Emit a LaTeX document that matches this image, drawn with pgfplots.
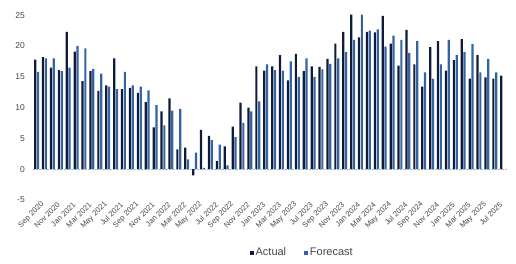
\documentclass[border=0pt]{standalone}
\usepackage{fontspec}
\setmainfont{Liberation Sans}
\usepackage{pgfplots}
\pgfplotsset{compat=1.18}
\definecolor{actual}{HTML}{101B3A}
\definecolor{forecast}{HTML}{3463A3}
\definecolor{txt}{HTML}{44464F}
\definecolor{zeroline}{HTML}{A9B8D6}
\pgfplotsset{sqlegend/.style={legend image code/.code={\fill[##1] (0pt,-1.9pt) rectangle (3.8pt,1.9pt);}}}
\begin{document}
\begin{tikzpicture}
\begin{axis}[
  scale only axis,
  width=474pt, height=187.9pt,
  xmin=-0.45, xmax=59.55,
  ymin=-5, ymax=25.5,
  ybar=0.6pt, bar width=2.2pt,
  axis line style={draw=none},
  major tick length=0pt,
  ytick={-5,0,5,10,15,20,25},
  extra y ticks={0},
  extra y tick labels={},
  extra y tick style={grid=major, major grid style={zeroline, densely dotted, line width=0.6pt}},
  xtick={0,2,...,58},
  xticklabels={Sep 2020, Nov 2020, Jan 2021, Mar 2021, May 2021, Jul 2021, Sep 2021, Nov 2021, Jan 2022, Mar 2022, May 2022, Jul 2022, Sep 2022, Nov 2022, Jan 2023, Mar 2023, May 2023, Jul 2023, Sep 2023, Nov 2023, Jan 2024, Mar 2024, May 2024, Jul 2024, Sep 2024, Nov 2024, Jan 2025, Mar 2025, May 2025, Jul 2025},
  xticklabel style={rotate=45, anchor=east, inner sep=0pt, yshift=-7pt, xshift=2pt, font=\fontsize{7.6}{9}\selectfont, text=txt},
  yticklabel style={anchor=east, inner sep=0pt, xshift=-8pt, font=\fontsize{8.5}{10}\selectfont, text=txt},
  /pgf/number format/assume math mode=true,
  legend style={draw=none, fill=none, at={(0.457,-0.28)}, anchor=west, legend columns=2,
    font=\fontsize{11}{13}\selectfont, text=txt,
    /tikz/every even column/.append style={column sep=16pt},
    legend cell align=left, inner sep=0pt},
]
\addplot[fill=actual, draw=none, sqlegend] coordinates {
(0,17.8) (1,18.2) (2,16.5) (3,16.1) (4,22.3) (5,19.1) (6,14.3) (7,15.9) (8,12.7) (9,13.6)
(10,18.0) (11,13.0) (12,13.2) (13,12.4) (14,10.9) (15,6.8) (16,9.4) (17,11.5) (18,3.2) (19,3.5)
(20,-1.0) (21,6.4) (22,5.4) (23,1.3) (24,3.7) (25,6.9) (26,10.8) (27,10.0) (28,16.7) (29,16.0)
(30,16.7) (31,18.5) (32,14.4) (33,18.7) (34,15.9) (35,16.7) (36,16.6) (37,17.9) (38,20.4) (39,22.3)
(40,25.1) (41,21.4) (42,22.3) (43,22.2) (44,24.9) (45,20.4) (46,16.8) (47,22.6) (48,17.0) (49,13.4)
(50,19.8) (51,20.8) (52,16.0) (53,17.7) (54,21.1) (55,14.7) (56,18.5) (57,14.9) (58,14.7) (59,15.2)
};
\addlegendentry{Actual}
\addplot[fill=forecast, draw=none, sqlegend] coordinates {
(0,15.8) (1,18.0) (2,18.0) (3,15.9) (4,16.5) (5,20.0) (6,19.6) (7,16.3) (8,15.5) (9,13.4)
(10,13.0) (11,15.8) (12,13.6) (13,13.4) (14,12.8) (15,10.4) (16,7.1) (17,9.5) (18,9.8) (19,1.6)
(20,2.7) (21,0.2) (22,4.7) (23,4.0) (24,0.6) (25,5.2) (26,7.5) (27,9.4) (28,11.0) (29,17.0)
(30,16.1) (31,16.0) (32,17.5) (33,15.0) (34,18.0) (35,15.0) (36,16.2) (37,17.1) (38,18.0) (39,19.0)
(40,21.0) (41,25.1) (42,22.5) (43,22.7) (44,19.9) (45,21.7) (46,21.0) (47,18.9) (48,20.8) (49,15.7)
(50,14.7) (51,17.0) (52,21.0) (53,18.5) (54,19.0) (55,20.3) (56,15.7) (57,17.9) (58,15.7)
};
\addlegendentry{Forecast}
\coordinate (O) at (rel axis cs:0,0);
\end{axis}
\path (O) ++(-33pt,-64pt) rectangle ++(516pt,264pt);
\end{tikzpicture}
\end{document}
